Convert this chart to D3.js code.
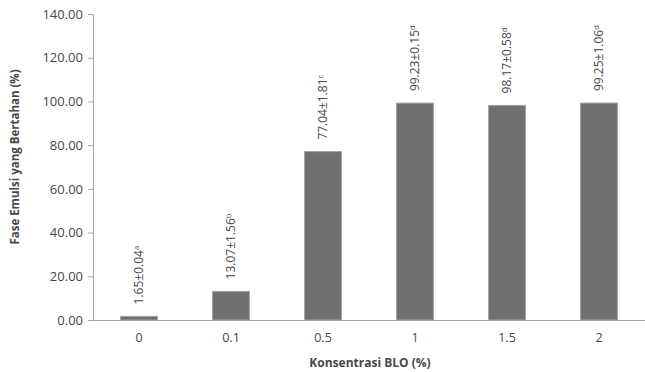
<!DOCTYPE html>
<html>
<head>
<meta charset="utf-8">
<script src="https://cdn.jsdelivr.net/npm/d3@7"></script>
<style>
  body { margin: 0; background: #fff; }
  text { font-family: "Open Sans", sans-serif; fill: #474747; }
</style>
</head>
<body>
<div id="chart"></div>
<script>
const categories = ["0", "0.1", "0.5", "1", "1.5", "2"];
const means = [1.65, 13.07, 77.04, 99.23, 98.17, 99.25];
const sds = ["0.04", "1.56", "1.81", "0.15", "0.58", "1.06"];
const letters = ["a", "b", "c", "d", "d", "d"];
const yTicks = [0, 20, 40, 60, 80, 100, 120, 140];

const width = 645;
const height = 372;
const margin = { top: 14, right: 0, bottom: 52, left: 93 };
const innerWidth = width - margin.left - margin.right;
const innerHeight = height - margin.top - margin.bottom;

const svg = d3.select("#chart")
  .append("svg")
  .attr("width", width)
  .attr("height", height);

const innerChart = svg.append("g")
  .attr("transform", `translate(${margin.left}, ${margin.top})`);

const xScale = d3.scaleBand()
  .domain(categories)
  .range([0, innerWidth])
  .paddingInner(0.6)
  .paddingOuter(0.3);

const yScale = d3.scaleLinear()
  .domain([0, 140])
  .range([innerHeight, 0]);

// y axis
const yAxisGroup = innerChart.append("g")
  .call(d3.axisLeft(yScale).tickValues(yTicks).tickFormat(d3.format(".2f")).tickSize(5).tickPadding(5));
yAxisGroup.select(".domain").attr("stroke", "#a6a6a6");
yAxisGroup.selectAll(".tick line").attr("stroke", "#a6a6a6");
yAxisGroup.selectAll(".tick text")
  .attr("font-size", 13)
  .attr("font-family", "Open Sans, sans-serif")
  .attr("fill", "#474747");

// bars
innerChart.append("g")
  .selectAll("rect")
  .data(means)
  .join("rect")
  .attr("x", (d, i) => xScale(categories[i]))
  .attr("y", d => yScale(d))
  .attr("width", xScale.bandwidth())
  .attr("height", d => innerHeight - yScale(d))
  .attr("fill", "#707070")
  .attr("stroke", "#a0a0a0")
  .attr("stroke-width", 1);

// x axis
const xAxisGroup = innerChart.append("g")
  .attr("transform", `translate(0, ${innerHeight})`)
  .call(d3.axisBottom(xScale).tickSize(0).tickPadding(13));
xAxisGroup.select(".domain").attr("stroke", "#a6a6a6");
xAxisGroup.selectAll(".tick text")
  .attr("font-size", 12.5)
  .attr("font-family", "Open Sans, sans-serif")
  .attr("fill", "#474747");

// value labels
const labels = innerChart.append("g")
  .selectAll("text")
  .data(means)
  .join("text")
  .attr("transform", (d, i) =>
    `translate(${xScale(categories[i]) + xScale.bandwidth() / 2}, ${yScale(d) - 12}) rotate(-90)`)
  .attr("dy", "0.35em")
  .attr("font-size", 12)
  .attr("text-anchor", "start");

labels.append("tspan")
  .text((d, i) => `${d.toFixed(2)}±${sds[i]}`);
labels.append("tspan")
  .attr("font-size", 7.5)
  .attr("dy", "-0.6em")
  .text((d, i) => letters[i]);

// axis titles
svg.append("text")
  .attr("x", 370)
  .attr("y", 367)
  .attr("text-anchor", "middle")
  .attr("font-size", 12)
  .attr("font-weight", "bold")
  .text("Konsentrasi BLO (%)");

svg.append("text")
  .attr("transform", "translate(19, 157) rotate(-90)")
  .attr("text-anchor", "middle")
  .attr("font-size", 11.5)
  .attr("font-weight", "bold")
  .text("Fase Emulsi yang Bertahan (%)");
</script>
</body>
</html>
